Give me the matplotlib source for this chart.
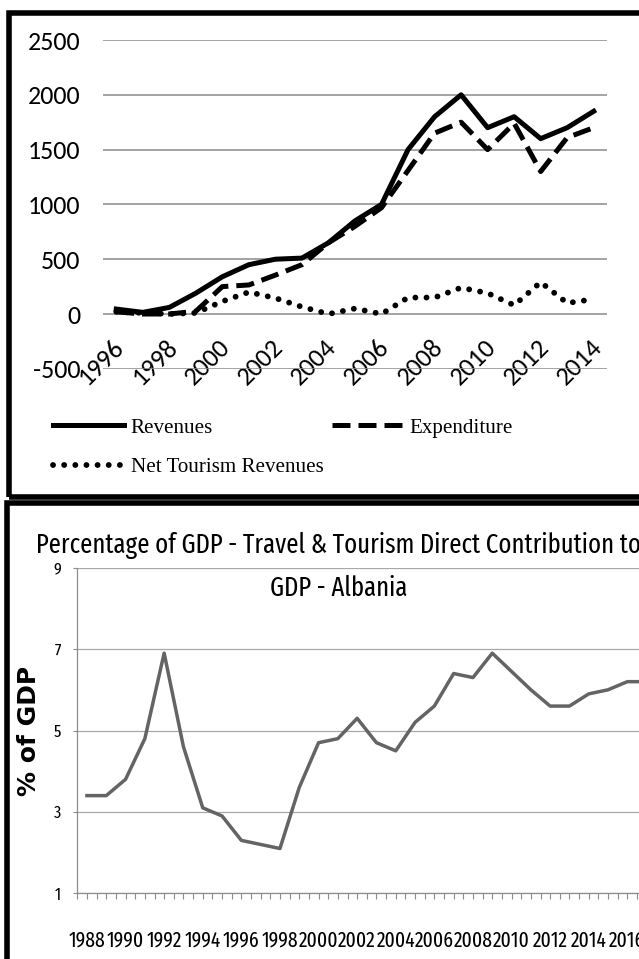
import numpy as np
import matplotlib
matplotlib.use("Agg")
import matplotlib.pyplot as plt
import matplotlib.transforms as mtransforms
from matplotlib.patches import Rectangle

# tourism balance, 1996-2014
years_top = list(range(1996, 2015))
revenues = [45, 15, 60, 190, 340, 450, 500, 510, 650, 850, 1000,
            1500, 1800, 2000, 1700, 1800, 1600, 1700, 1850]
expenditure = [20, 0, 0, 25, 250, 265, 355, 450, 650, 800, 970,
               1310, 1650, 1750, 1500, 1740, 1300, 1610, 1700]
net_revenues = [20, 10, 0, 10, 115, 200, 145, 65, 0, 50, 0,
                150, 150, 240, 190, 80, 290, 100, 135]

# travel & tourism direct contribution to GDP, Albania
years_gdp = list(range(1988, 2018))
gdp_share = [3.4, 3.4, 3.8, 4.8, 6.9, 4.6, 3.1, 2.9, 2.3, 2.2,
             2.1, 3.6, 4.7, 4.8, 5.3, 4.7, 4.5, 5.2, 5.6, 6.4,
             6.3, 6.9, 6.45, 6.0, 5.6, 5.6, 5.9, 6.0, 6.2, 6.2]

W, H = 639, 959
fig = plt.figure(figsize=(W / 100, H / 100), dpi=100)


def box(l, t, r, b):
    return [l / W, 1 - b / H, (r - l) / W, (b - t) / H]


# ---- top chart ----
ax1 = fig.add_axes(box(103, 40, 607, 368.8))
x = np.arange(len(years_top))
l_rev, = ax1.plot(x, revenues, color='black', lw=3.6)
l_exp, = ax1.plot(x, expenditure, color='black', lw=3.6,
                  linestyle=(0, (3.6, 1.6)))
l_net, = ax1.plot(x, net_revenues, color='black', lw=4.2,
                  linestyle=(0, (0.01, 1.9)), dash_capstyle='round')

ax1.set_xlim(-0.5, len(years_top) - 0.5)
ax1.set_ylim(-500, 2500)
ax1.set_yticks(range(-500, 2501, 500))
ax1.set_yticklabels([str(v) for v in range(-500, 2501, 500)])
ax1.yaxis.grid(True, color='#8a8a8a', lw=1.1)
ax1.set_axisbelow(True)
for s in ax1.spines.values():
    s.set_visible(False)
ax1.spines['bottom'].set_position(('data', 0))
ax1.tick_params(axis='y', length=0, pad=16.5, labelsize=18.7)
for t in ax1.get_yticklabels():
    t.set_fontfamily('Carlito')
ax1.set_xticks(x[::2])
ax1.set_xticklabels([str(y) for y in years_top[::2]], rotation=45,
                    ha='right', va='top', rotation_mode='anchor',
                    fontfamily='Carlito', fontsize=19)
ax1.tick_params(axis='x', length=0, pad=15)
# nudge the slanted year labels a little to the left
shift = mtransforms.ScaledTranslation(-4 / 100, 0, fig.dpi_scale_trans)
for tick in ax1.xaxis.get_major_ticks():
    tick.label1.set_transform(tick.label1.get_transform() + shift)

ax1.legend([l_rev, l_net, l_exp],
           ['Revenues', 'Net Tourism Revenues', 'Expenditure'],
           ncol=2, loc='upper left', bbox_to_anchor=(53 / W, 1 - 418 / H),
           bbox_transform=fig.transFigure, frameon=False,
           prop={'family': 'Liberation Serif', 'size': 15.1},
           handlelength=3.4, handletextpad=0.3, columnspacing=0.4,
           labelspacing=0.95, borderpad=0, borderaxespad=0)

# frames around the two panels
fig.add_artist(Rectangle((8.5 / W, 1 - 497 / H), 700 / W, 484.5 / H,
                         transform=fig.transFigure, fill=False,
                         ec='black', lw=4))
fig.add_artist(Rectangle((7 / W, 1 - 1100 / H), 700 / W, 597.5 / H,
                         transform=fig.transFigure, fill=False,
                         ec='black', lw=4))

# ---- bottom chart ----
cond = 'Fira Sans Extra Condensed'
ax2 = fig.add_axes(box(77.3, 567.7, 656.3, 893.3))
ax2.plot(years_gdp, gdp_share, color='#646464', lw=2.5)
ax2.set_xlim(1987.5, 2017.5)
ax2.set_ylim(1, 9)
ax2.set_yticks([1, 3, 5, 7, 9])
ax2.yaxis.grid(True, color='#a8a8a8', lw=0.9)
ax2.set_axisbelow(True)
for k in ('top', 'right'):
    ax2.spines[k].set_visible(False)
for k in ('left', 'bottom'):
    ax2.spines[k].set_color('#8c8c8c')
    ax2.spines[k].set_linewidth(0.9)
ax2.set_xticks(range(1988, 2017, 2))
ax2.set_xticks(np.arange(1987.5, 2018, 0.5), minor=True)
ax2.tick_params(axis='x', which='both', length=4.3, width=0.8,
                color='#8c8c8c', pad=22, labelsize=15.3)
ax2.tick_params(axis='y', length=3, width=0.8, color='#8c8c8c',
                pad=9, labelsize=12.5)
for t in ax2.get_xticklabels() + ax2.get_yticklabels():
    t.set_fontfamily(cond)

fig.text(36 / W, 1 - 545 / H,
         'Percentage of GDP - Travel & Tourism Direct Contribution to',
         ha='left', va='center', fontsize=19.3, fontfamily=cond)
fig.text(339 / W, 1 - 588 / H, 'GDP - Albania', ha='center', va='center',
         fontsize=19.3, fontfamily=cond)
fig.text(29 / W, 1 - 731 / H, '% of GDP', rotation=90, ha='center',
         va='center', fontsize=18, fontweight='bold',
         fontfamily='DejaVu Sans')

fig.savefig('out.png', dpi=100)
